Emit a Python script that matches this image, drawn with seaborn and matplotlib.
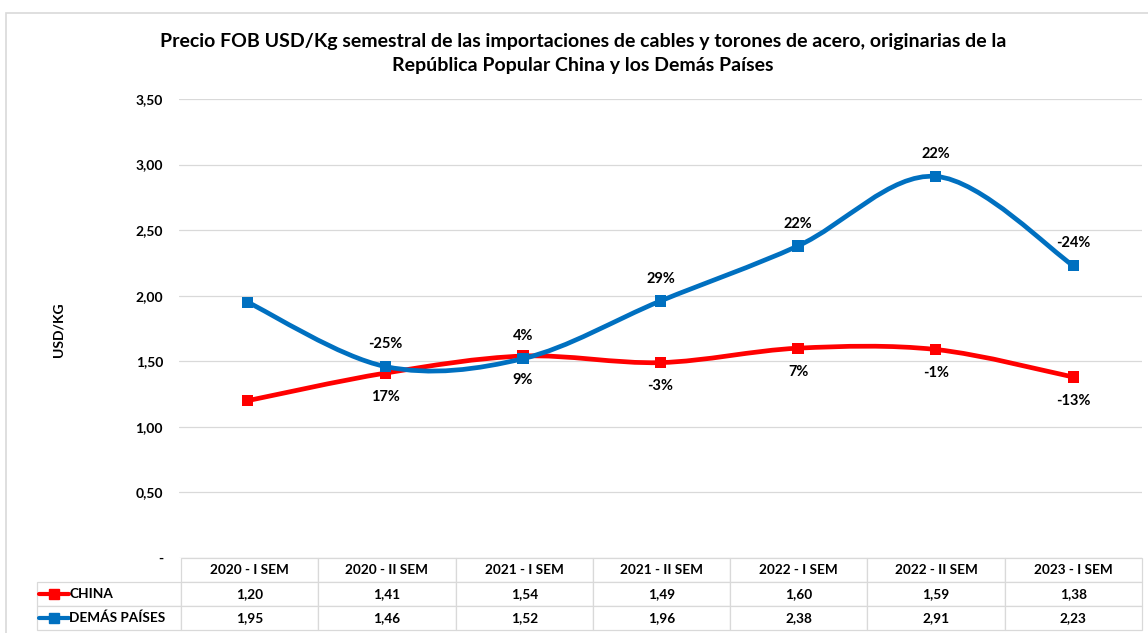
import numpy as np
import pandas as pd
import matplotlib
matplotlib.use('Agg')
import matplotlib.pyplot as plt
from matplotlib.path import Path
from matplotlib.patches import PathPatch, Rectangle
from matplotlib.lines import Line2D
import seaborn as sns

# ── Datos 
semestres = ["2020 - I SEM", "2020 - II SEM", "2021 - I SEM", "2021 - II SEM",
             "2022 - I SEM", "2022 - II SEM", "2023 - I SEM"]
china = [1.20, 1.41, 1.54, 1.49, 1.60, 1.59, 1.38]
demas = [1.95, 1.46, 1.52, 1.96, 2.38, 2.91, 2.23]
var_china = ["", "17%", "9%", "-3%", "7%", "-1%", "-13%"]
var_demas = ["", "-25%", "4%", "29%", "22%", "22%", "-24%"]
series_names = ["CHINA", "DEMÁS PAÍSES"]
y_ticks = [0, 0.5, 1.0, 1.5, 2.0, 2.5, 3.0, 3.5]

RED = "#FF0000"
BLUE = "#0070C0"
GRID = "#d9d9d9"

sns.set_theme(style="white")
plt.rcParams['font.family'] = ['Lato', 'DejaVu Sans']
plt.rcParams['font.weight'] = 'bold'
plt.rcParams['text.color'] = 'black'
plt.rcParams['ytick.color'] = 'black'
plt.rcParams['axes.labelcolor'] = 'black'


def smooth_path(xs, ys, t=1 / 6):
    """Excel-like smoothed line: cubic Bezier through the points."""
    n = len(xs)
    verts = [(xs[0], ys[0])]
    codes = [Path.MOVETO]
    for i in range(n - 1):
        i0, i3 = max(i - 1, 0), min(i + 2, n - 1)
        c1 = (xs[i] + (xs[i + 1] - xs[i0]) * t, ys[i] + (ys[i + 1] - ys[i0]) * t)
        c2 = (xs[i + 1] - (xs[i3] - xs[i]) * t, ys[i + 1] - (ys[i3] - ys[i]) * t)
        verts += [c1, c2, (xs[i + 1], ys[i + 1])]
        codes += [Path.CURVE4] * 3
    return Path(verts, codes)


df = pd.DataFrame({
    "pos": list(range(len(semestres))) * 2,
    "valor": china + demas,
    "serie": [series_names[0]] * len(china) + [series_names[1]] * len(demas),
})

fig = plt.figure(figsize=(11.48, 6.33), dpi=100)
ax = fig.add_axes([179 / 1148, 1 - 558 / 633, 963 / 1148, 459 / 633])

# frame of the chart area
fig.patches.append(Rectangle((6 / 1148, -0.01), 1.2, 1 - 13 / 633 + 0.01,
                             transform=fig.transFigure, fill=False,
                             edgecolor=GRID, linewidth=1.2))

pos = list(range(len(semestres)))
for vals, color in [(china, RED), (demas, BLUE)]:
    ax.add_patch(PathPatch(smooth_path(pos, vals), facecolor='none',
                           edgecolor=color, linewidth=3.4, zorder=3,
                           capstyle='round'))

sns.scatterplot(data=df, x="pos", y="valor", hue="serie", palette=[RED, BLUE],
                marker='s', s=66, edgecolor=None, linewidth=0, legend=False,
                zorder=4, ax=ax)

for i in range(1, len(semestres)):
    ax.annotate(var_demas[i], (pos[i], demas[i]), xytext=(0, 16),
                textcoords='offset points', ha='center', va='center',
                fontsize=10.5, fontweight='bold')
    ax.annotate(var_china[i], (pos[i], china[i]), xytext=(0, -17),
                textcoords='offset points', ha='center', va='center',
                fontsize=10.5, fontweight='bold')

ax.set_xlim(-0.5, len(semestres) - 0.5)
ax.set_ylim(0, 3.5)
ax.set_yticks(y_ticks)
ax.set_yticklabels(["-" if v == 0 else f"{v:.2f}".replace('.', ',') for v in y_ticks],
                   fontsize=10, fontweight='bold')
ax.set_xticks([])
ax.set_xlabel("")
ax.tick_params(axis='y', length=0, pad=11.5)
ax.grid(axis='y', color=GRID, linewidth=0.9)
ax.set_axisbelow(True)
for s in ax.spines.values():
    s.set_visible(False)

ax.set_ylabel("USD/KG", fontsize=10, fontweight='bold')
ax.yaxis.set_label_coords(-0.119, 0.497)

# ── data table under the chart (first column = legend keys)
fmt = lambda v: f"{v:.2f}".replace('.', ',')
cell_text = [[""] + [fmt(v) for v in china],
             [""] + [fmt(v) for v in demas]]
n = len(semestres)
col_w = [144 / 1105] + [(1105 - 144) / 1105 / n] * n
tbl = ax.table(cellText=cell_text, colLabels=[""] + semestres,
               colWidths=col_w, cellLoc='center',
               bbox=[-142 / 963, -72 / 459, 1105 / 963, 72 / 459])
tbl.auto_set_font_size(False)
tbl.set_fontsize(9.8)
for (r, c), cell in tbl.get_celld().items():
    cell.set_edgecolor(GRID)
    cell.set_linewidth(0.9)
    cell.get_text().set_fontweight('bold')
tbl[(0, 0)].visible_edges = ''

row_y = [-36 / 459, -60 / 459]
for name, color, y in zip(series_names, [RED, BLUE], row_y):
    ax.add_line(Line2D([-140 / 963, -125 / 963, -110 / 963], [y, y, y],
                       transform=ax.transAxes, color=color, linewidth=3,
                       marker='s', markevery=[1], markersize=7, clip_on=False))
    ax.text(-110 / 963, y, name, transform=ax.transAxes, ha='left', va='center',
            fontsize=9.8, fontweight='bold')

fig.text(583 / 1148, 1 - 54 / 633,
         "Precio FOB USD/Kg semestral de las importaciones de cables y torones de acero, originarias de la\n"
         "República Popular China y los Demás Países",
         ha='center', va='center', fontsize=14, fontweight='bold', linespacing=1.5)

fig.savefig("out.png", dpi=100, facecolor='white')
